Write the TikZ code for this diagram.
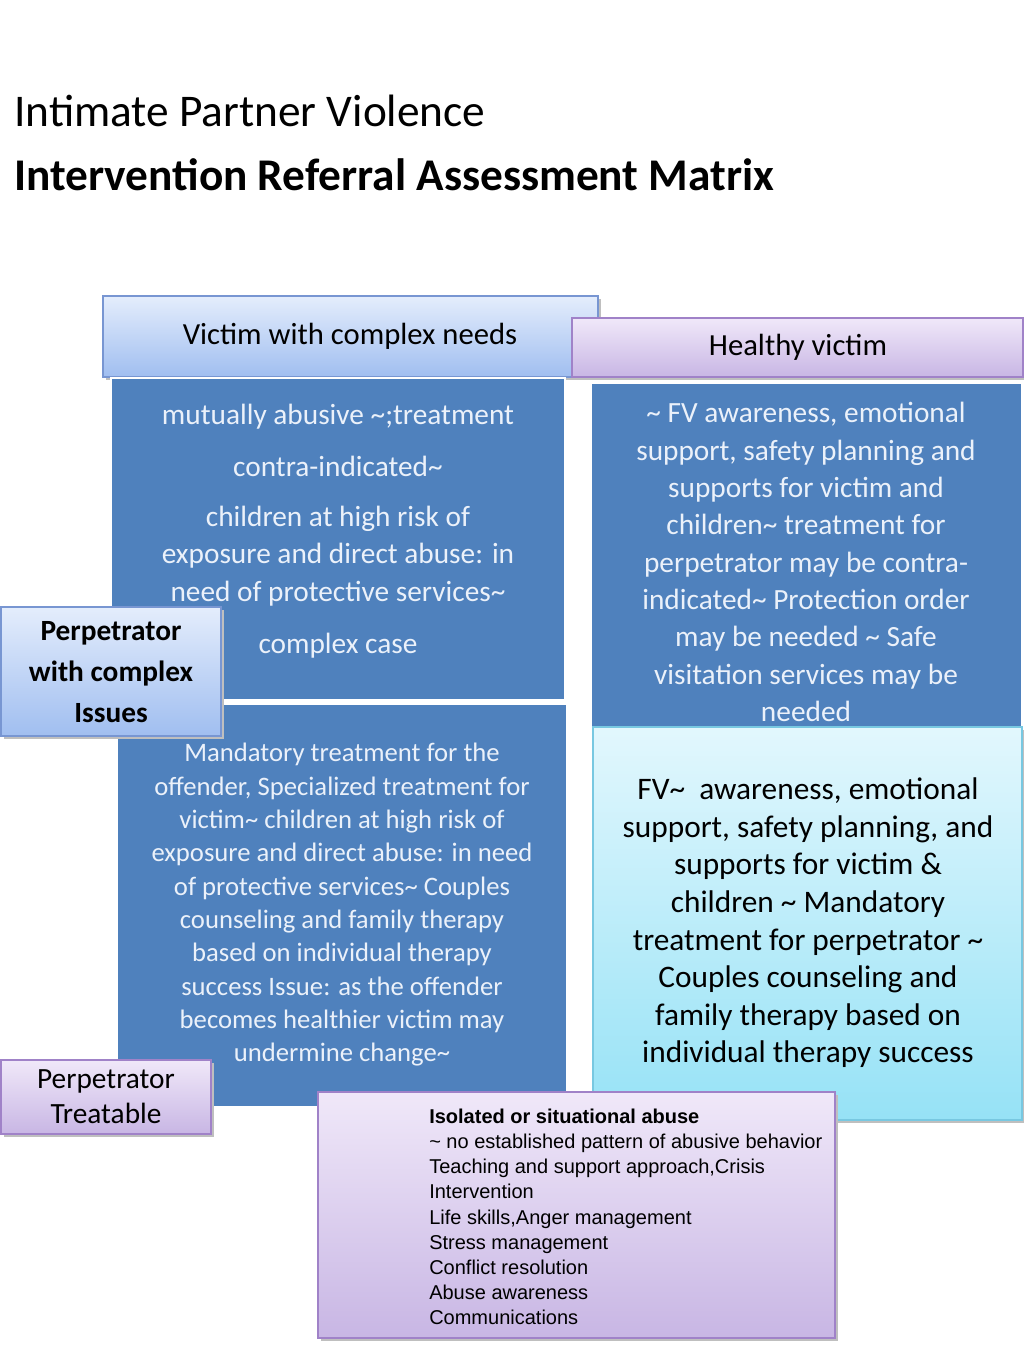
\documentclass[tikz,border=0pt]{standalone}
\usepackage{fontspec}
\setmainfont{Carlito}
\newfontfamily\arialf{Liberation Sans}
\begin{document}
\begin{tikzpicture}[x=0.75pt,y=-0.75pt,
  bluebox/.style={fill=blue!45!cyan!40!black!0, fill={rgb,255:red,79;green,129;blue,189}, draw=white, line width=1.5pt},
  bt/.style={text={rgb,255:red,235;green,241;blue,250}, align=center, inner sep=0pt},
  hdrblue/.style={top color={rgb,255:red,228;green,237;blue,252}, bottom color={rgb,255:red,160;green,190;blue,240}, draw={rgb,255:red,120;green,150;blue,210}, line width=0.8pt},
  hdrlav/.style={top color={rgb,255:red,240;green,232;blue,249}, bottom color={rgb,255:red,200;green,182;blue,228}, draw={rgb,255:red,160;green,130;blue,200}, line width=0.8pt},
  hdrcyan/.style={top color={rgb,255:red,226;green,247;blue,253}, bottom color={rgb,255:red,150;green,226;blue,246}, draw={rgb,255:red,120;green,200;blue,225}, line width=0.8pt},
  shad/.style={fill=black!25}]
\useasboundingbox (0,0) rectangle (1024,1365);
\node[anchor=west,inner sep=0pt,font=\fontsize{34}{40}\selectfont] (t1) at (14,111) {Intimate Partner Violence};
\node[anchor=west,inner sep=0pt,font=\fontsize{34}{40}\selectfont\bfseries] (t2) at (14,175) {Intervention Referral Assessment Matrix};
% shadows
\fill[shad] (106,299) rectangle (601,380);
\fill[shad] (575,321) rectangle (1026,380);
% headers
\draw[hdrblue] (103,296) rectangle (598,377);
\node[font=\fontsize{23}{28}\selectfont] (h1) at (350,336) {Victim with complex needs};
\draw[hdrlav] (572,318) rectangle (1023,377);
\node[font=\fontsize{23}{28}\selectfont] (h2) at (798,347) {Healthy victim};
% blue boxes
\draw[bluebox] (111,378) rectangle (565,700);
\draw[bluebox] (591,383) rectangle (1022,740);
\draw[bluebox] (117,704) rectangle (567,1107);
\node[bt,font=\fontsize{22}{39}\selectfont] (a1) at (338,440) {mutually abusive \textasciitilde;treatment\\contra-indicated\textasciitilde};
\node[bt,font=\fontsize{22}{28}\selectfont] (a2) at (338,556) {children at high risk of\\exposure and direct abuse: in\\need of protective services\textasciitilde};
\node[bt,font=\fontsize{22}{28}\selectfont] (a3) at (338,646) {complex case};
\node[bt,font=\fontsize{22}{28}\selectfont] (b1) at (806,562) {\textasciitilde{} FV awareness, emotional\\support, safety planning and\\supports for victim and\\children\textasciitilde{} treatment for\\perpetrator may be contra-\\indicated\textasciitilde{} Protection order\\may be needed \textasciitilde{} Safe\\visitation services may be\\needed};
\node[bt,font=\fontsize{20}{25}\selectfont] (c1) at (342,905) {Mandatory treatment for the\\offender, Specialized treatment for\\victim\textasciitilde{} children at high risk of\\exposure and direct abuse: in need\\of protective services\textasciitilde{} Couples\\counseling and family therapy\\based on individual therapy\\success Issue: as the offender\\becomes healthier victim may\\undermine change\textasciitilde};
% cyan box
\fill[shad] (596,730) rectangle (1025,1123);
\draw[hdrcyan] (593,727) rectangle (1022,1120);
\node[align=center,inner sep=0pt,font=\fontsize{23.5}{28.2}\selectfont] (d1) at (808,923) {FV\textasciitilde{}\ \ awareness, emotional\\support, safety planning, and\\supports for victim \&\\children \textasciitilde{} Mandatory\\treatment for perpetrator \textasciitilde\\Couples counseling and\\family therapy based on\\individual therapy success};
% perpetrator boxes
\fill[shad] (4,610) rectangle (224,739);
\draw[hdrblue] (1,607) rectangle (221,736);
\node[align=center,font=\fontsize{22}{30.5}\selectfont\bfseries] (p1) at (111,672) {Perpetrator\\with complex\\Issues};
\fill[shad] (4,1063) rectangle (214,1137);
\draw[hdrlav] (1,1060) rectangle (211,1134);
\node[align=center,font=\fontsize{22}{26}\selectfont] (p2) at (106,1097) {Perpetrator\\Treatable};
% bottom box
\fill[shad] (321,1095) rectangle (838,1341);
\draw[hdrlav] (318,1092) rectangle (835,1338);
\node[anchor=north west,align=left,inner sep=0pt,font=\arialf\fontsize{15}{18.8}\selectfont] (e1) at (429,1109) {\textbf{Isolated or situational abuse}\\\textasciitilde{} no established pattern of abusive behavior\\Teaching and support approach,Crisis\\Intervention\\Life skills,Anger management\\Stress management\\Conflict resolution\\Abuse awareness\\Communications};
\end{tikzpicture}
\end{document}
